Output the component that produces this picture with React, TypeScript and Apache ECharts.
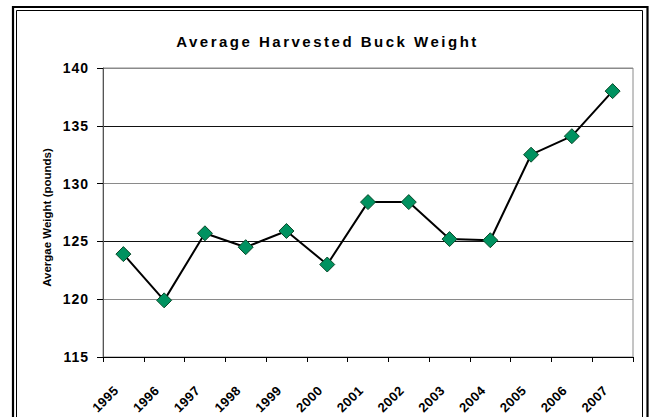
import React, { useEffect, useRef } from "react";
import * as echarts from "echarts";

const titleText = "Average Harvested Buck Weight";
const yAxisName = "Avergae Weight (pounds)";
const years = ["1995", "1996", "1997", "1998", "1999", "2000", "2001", "2002", "2003", "2004", "2005", "2006", "2007"];
const weights = [123.9, 119.9, 125.7, 124.5, 125.9, 123.0, 128.4, 128.4, 125.2, 125.1, 132.5, 134.1, 138.0];
const yMin = 115;
const yMax = 140;
const yStep = 5;

export default function App() {
  const ref = useRef<HTMLDivElement>(null);
  useEffect(() => {
    if (!ref.current) return;
    const chart = echarts.init(ref.current, undefined, { renderer: "svg" });
    const font = "Arial, 'Liberation Sans', sans-serif";
    chart.setOption({
      animation: false,
      backgroundColor: "#ffffff",
      title: {
        text: titleText,
        left: "center",
        top: 34,
        padding: 0,
        textStyle: { fontFamily: font, fontSize: 15, fontWeight: "bold", color: "#000" },
      },
      grid: {
        left: 103,
        right: 22,
        top: 68,
        bottom: 60,
        show: true,
        borderColor: "#8a8a8a",
        borderWidth: 1,
        backgroundColor: "#ffffff",
      },
      xAxis: {
        type: "category",
        data: years,
        boundaryGap: true,
        axisLine: { show: true, lineStyle: { color: "#000", width: 1 } },
        axisTick: { show: true, inside: false, length: 5, lineStyle: { color: "#000" } },
        axisLabel: {
          rotate: 45,
          margin: 24,
          padding: [0, 10, 0, 0],
          fontFamily: font,
          fontSize: 13,
          fontWeight: "bold",
          color: "#000",
        },
        splitLine: { show: false },
      },
      yAxis: {
        type: "value",
        min: yMin,
        max: yMax,
        interval: yStep,
        name: yAxisName,
        nameLocation: "middle",
        nameGap: 50,
        nameRotate: 90,
        nameTextStyle: {
          fontFamily: font,
          fontSize: 11.5,
          fontWeight: "bold",
          color: "#000",
          padding: [0, 10, 0, 0],
        },
        axisLine: { show: true, lineStyle: { color: "#555", width: 1 } },
        axisTick: { show: true, inside: false, length: 6, lineStyle: { color: "#000" } },
        axisLabel: {
          margin: 14,
          fontFamily: font,
          fontSize: 14,
          fontWeight: "bold",
          color: "#000",
        },
        splitLine: { show: true, lineStyle: { color: ["#111", "#8a8a8a"], width: 1 } },
      },
      series: [
        {
          type: "line",
          data: weights,
          symbol: "diamond",
          symbolSize: 15,
          lineStyle: { color: "#000", width: 2 },
          itemStyle: { color: "#009260", borderColor: "#0a4a2a", borderWidth: 1 },
          z: 3,
        },
      ],
      graphic: [
        {
          type: "rect",
          shape: { x: 13, y: 7, width: 634.5, height: 460 },
          style: { fill: "none", stroke: "#000", lineWidth: 2.2 },
          silent: true,
          z: 100,
        },
        {
          type: "rect",
          shape: { x: 16.5, y: 10.5, width: 626, height: 460 },
          style: { fill: "none", stroke: "#000", lineWidth: 1 },
          silent: true,
          z: 100,
        },
      ],
    });
    // emulate the wide letter spacing of the original rendering
    const texts = ref.current.querySelectorAll("text");
    texts.forEach((t) => {
      const s = (t.textContent || "").trim();
      const el = t as SVGTextElement;
      if (s === titleText) el.style.letterSpacing = "2.5px";
      else if (/^\d{3}$/.test(s)) el.style.letterSpacing = "1px";
      else if (/^\d{4}$/.test(s)) el.style.letterSpacing = "0.5px";
    });
    return () => chart.dispose();
  }, []);
  return <div ref={ref} style={{ position: "absolute", left: 0, top: 0, width: 655, height: 417 }} />;
}
